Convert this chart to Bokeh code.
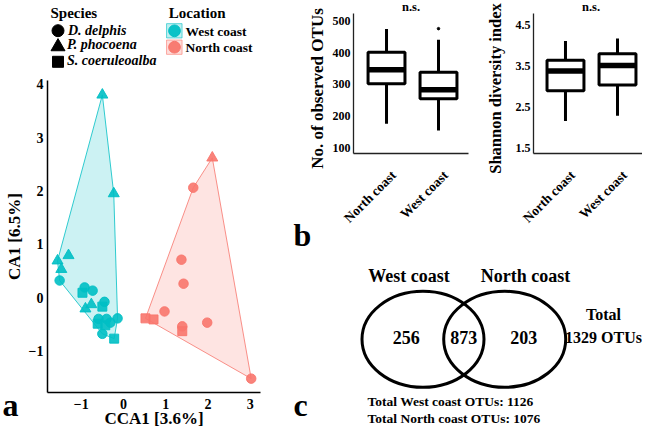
import numpy as np
from bokeh.plotting import figure
from bokeh.models import Range1d, FixedTicker, LinearAxis, ColumnDataSource
from bokeh.embed import file_html
from bokeh.resources import INLINE
from bokeh.core.properties import value

FONT = "Liberation Serif"
CYAN = "#00BFC4"
RED = "#F8766D"

# ---------------- data: panel a (CCA ordination) ----------------
species_names = ["D. delphis", "P. phocoena", "S. coeruleoalba"]
species_codes = ["D", "P", "S"]
location_names = ["West coast", "North coast"]

west_cca1 = [-0.50, -0.23, -1.56, -1.30, -1.47, -1.51, -0.92, -0.73, -0.97, -0.90, -0.76,
             -0.45, -0.50, -0.59, -0.40, -0.14, -0.61, -0.43, -0.31, -0.50, -0.22]
west_ca1 = [3.80, 1.95, 0.69, 0.79, 0.53, 0.32, 0.19, 0.13, 0.09, -0.21, -0.13,
            -0.08, -0.17, -0.40, -0.40, -0.39, -0.49, -0.52, -0.47, -0.68, -0.77]
west_species = ["P", "P", "P", "P", "P", "D", "D", "D", "S", "P", "P",
                "D", "S", "D", "D", "D", "S", "S", "D", "D", "S"]

north_cca1 = [2.10, 1.65, 1.37, 1.42, 0.97, 0.52, 0.71, 1.39, 1.39, 1.98, 3.02]
north_ca1 = [2.62, 2.06, 0.71, 0.26, -0.26, -0.39, -0.41, -0.54, -0.63, -0.47, -1.52]
north_species = ["P", "D", "D", "D", "D", "S", "S", "D", "S", "D", "D"]

cca_x_ticks = [-1, 0, 1, 2, 3]
cca_y_ticks = [-1, 0, 1, 2, 3, 4]
cca_x_label = "CCA1 [3.6%]"
cca_y_label = "CA1 [6.5%]"

# ---------------- data: panel b (alpha diversity boxplots) ----------------
box_groups = ["North coast", "West coast"]
otu_lower = [175, 154]
otu_q1 = [302, 255]
otu_median = [347, 283]
otu_q3 = [402, 339]
otu_upper = [476, 442]
otu_outlier_group = [2]
otu_outlier_value = [477]
otu_ticks = [100, 200, 300, 400, 500]
otu_label = "No. of observed OTUs"

sh_lower = [2.17, 2.30]
sh_q1 = [2.91, 3.05]
sh_median = [3.39, 3.52]
sh_q3 = [3.65, 3.81]
sh_upper = [4.12, 4.18]
sh_ticks = [1.5, 2.5, 3.5, 4.5]
sh_label = "Shannon diversity index"
test_label = "n.s."

# ---------------- data: panel c (Venn) ----------------
venn_sets = ["West coast", "North coast"]
venn_counts = [256, 873, 203]
total_otus = 1329
west_total = 1126
north_total = 1076

MARKERS = {"D": "circle", "P": "triangle", "S": "square"}
SIZES = {"D": 9.5, "P": 11, "S": 9}

# drawing canvas in pixels
CX0, CX1, CY0, CY1 = 0, 642, 0, 427
BASE_SHIFT = 0.38   # baseline correction (fraction of font size)


def xr(d0, d1, p0, p1):
    """Range over the whole canvas so that data d0..d1 falls on pixels p0..p1."""
    s = (p1 - p0) / (d1 - d0)
    return Range1d(d0 + (CX0 - p0) / s, d0 + (CX1 - p0) / s)


def yr(d0, d1, p0, p1):
    """p0: pixel (from top) of d0, p1: pixel of d1."""
    s = (p0 - p1) / (d1 - d0)
    return Range1d(d0 + (p0 - CY1) / s, d0 + (p0 - CY0) / s)


def ypix(d0, d1, p0, p1, py):
    s = (p0 - p1) / (d1 - d0)
    return d0 + (p0 - py) / s


def convex_hull(xs, ys):
    pts = sorted(set(zip(xs, ys)))

    def cross(o, a, b):
        return (a[0] - o[0]) * (b[1] - o[1]) - (a[1] - o[1]) * (b[0] - o[0])

    lower, upper = [], []
    for q in pts:
        while len(lower) >= 2 and cross(lower[-2], lower[-1], q) <= 0:
            lower.pop()
        lower.append(q)
    for q in reversed(pts):
        while len(upper) >= 2 and cross(upper[-2], upper[-1], q) <= 0:
            upper.pop()
        upper.append(q)
    h = lower[:-1] + upper[:-1]
    return [q[0] for q in h], [q[1] for q in h]


def style_axis(ax, size, color="black", width=1.5):
    ax.major_tick_line_color = None
    ax.minor_tick_line_color = None
    ax.major_tick_out = 0
    ax.major_tick_in = 0
    ax.major_label_text_font = FONT
    ax.major_label_text_font_style = "bold"
    ax.major_label_text_font_size = size
    ax.major_label_text_color = "black"
    ax.axis_line_color = color
    ax.axis_line_width = width


p = figure(width=CX1 - CX0, height=CY1 - CY0,
           x_range=Range1d(CX0, CX1), y_range=Range1d(CY1, CY0),
           output_backend="svg", toolbar_location=None,
           x_axis_location=None, y_axis_location=None,
           min_border=0, min_border_left=0, min_border_right=0,
           min_border_top=0, min_border_bottom=0)
p.outline_line_color = None
p.grid.visible = False


def label(xs, ys, texts, size, align="left", style="bold", vertical=False):
    """Text at alphabetic baselines (canvas pixels)."""
    off = -BASE_SHIFT * size
    kw = dict(x_offset=off) if vertical else dict(y_offset=off)
    p.text(x=xs, y=ys, text=texts, angle=np.pi / 2 if vertical else 0,
           text_font=value(FONT), text_font_style=style, text_font_size=f"{size}px",
           text_color="black", text_align=align, text_baseline="alphabetic", **kw)


# ---------------- panel a ----------------
A_X = (-1.797, 3.24, 47, 260)
A_Y = (-1.78, 4.07, 392, 80)
p.extra_x_ranges["ax"] = xr(*A_X)
p.extra_y_ranges["ay"] = yr(*A_Y)

for xs, ys, col in ((west_cca1, west_ca1, CYAN), (north_cca1, north_ca1, RED)):
    hx, hy = convex_hull(xs, ys)
    p.patch(hx, hy, fill_color=col, fill_alpha=0.2, line_color=col, line_alpha=0.8,
            line_width=1, x_range_name="ax", y_range_name="ay")

for xs, ys, sp, col in ((west_cca1, west_ca1, west_species, CYAN),
                        (north_cca1, north_ca1, north_species, RED)):
    src = ColumnDataSource(dict(x=xs, y=ys,
                                marker=[MARKERS[s] for s in sp],
                                size=[SIZES[s] for s in sp]))
    p.scatter(x="x", y="y", marker="marker", size="size", source=src,
              fill_color=col, line_color=col, fill_alpha=0.9, line_alpha=0.9,
              x_range_name="ax", y_range_name="ay")

ax_a = LinearAxis(x_range_name="ax", y_range_name="ay", fixed_location=A_Y[0],
                  bounds=(A_X[0], A_X[1]), ticker=FixedTicker(ticks=cca_x_ticks))
style_axis(ax_a, "14px")
ax_a.major_label_standoff = 6
p.add_layout(ax_a, "below")
ay_a = LinearAxis(x_range_name="ax", y_range_name="ay", fixed_location=A_X[0],
                  bounds=(A_Y[0], A_Y[1]), ticker=FixedTicker(ticks=cca_y_ticks))
style_axis(ay_a, "14px")
ay_a.major_label_standoff = 4
p.add_layout(ay_a, "left")

label([153.5], [424], [cca_x_label], 17, align="center")
label([20.5], [236], [cca_y_label], 17, align="center", vertical=True)

# legend (Species / Location)
label([50, 168.3], [18.5, 18.5], ["Species", "Location"], 15)
p.scatter(x=[57.5, 57.5, 57.5], y=[30.2, 46.2, 61.3],
          marker=[MARKERS[c] for c in species_codes], size=[12, 14, 11],
          fill_color="black", line_color="black")
label([67.5, 66.5, 66.5], [35, 49.3, 65], species_names, 14, style="bold italic")
p.rect(x=[173.8, 173.8], y=[30.3, 46.7], width=15.5, height=14.3,
       fill_color=[CYAN, RED], fill_alpha=0.25, line_color=[CYAN, RED], line_alpha=0.6)
p.scatter(x=[174, 174], y=[30.3, 46.7], marker="circle", size=11.7,
          fill_color=[CYAN, RED], line_color=[CYAN, RED], fill_alpha=0.95)
label([185, 185], [36, 51.7], location_names, 13.5)


# ---------------- panel b ----------------
def boxplot(name, X, Y, lower, q1, med, q3, upper, ticks, tick_fmt,
            outlier_x=None, outlier_y=None):
    p.extra_x_ranges[name + "x"] = xr(*X)
    p.extra_y_ranges[name + "y"] = yr(*Y)
    kw = dict(x_range_name=name + "x", y_range_name=name + "y")
    pos = np.arange(1, len(box_groups) + 1)
    bw = 0.71
    p.segment(x0=pos, y0=q3, x1=pos, y1=upper, line_color="black", line_width=3, **kw)
    p.segment(x0=pos, y0=q1, x1=pos, y1=lower, line_color="black", line_width=3, **kw)
    p.vbar(x=pos, width=bw, bottom=q1, top=q3, fill_color="white",
           line_color="black", line_width=3, **kw)
    p.segment(x0=pos - bw / 2, y0=med, x1=pos + bw / 2, y1=med,
              line_color="black", line_width=5.5, **kw)
    if outlier_x is not None:
        p.scatter(x=outlier_x, y=outlier_y, size=2.5, color="black", **kw)
    xa = LinearAxis(fixed_location=Y[0], bounds=(X[0], X[1]),
                    ticker=FixedTicker(ticks=[]), **kw)
    style_axis(xa, "13px", "#222222", 1.3)
    p.add_layout(xa, "below")
    ya = LinearAxis(fixed_location=X[0], bounds=(Y[0], Y[1]),
                    ticker=FixedTicker(ticks=ticks), **kw)
    ya.major_label_overrides = {t: tick_fmt(t) for t in ticks}
    ya.major_label_standoff = 3
    style_axis(ya, "12px", "#222222", 1.3)
    p.add_layout(ya, "left")
    # rotated group labels under the x axis
    ylab = ypix(*Y, 167)
    p.text(x=pos, y=[ylab] * len(pos), text=box_groups, angle=np.pi / 4, x_offset=2,
           text_font=value(FONT), text_font_style="bold", text_font_size="13.5px",
           text_color="black", text_align="right", text_baseline="top", **kw)


B1_X = (0.365, 2.577, 353, 468)
B1_Y = (81, 525, 153, 13)
B2_X = (0.385, 2.596, 533, 648)
B2_Y = (1.378, 4.79, 153, 13)
boxplot("b1", B1_X, B1_Y, otu_lower, otu_q1, otu_median, otu_q3, otu_upper,
        otu_ticks, lambda t: str(int(t)), otu_outlier_group, otu_outlier_value)
boxplot("b2", B2_X, B2_Y, sh_lower, sh_q1, sh_median, sh_q3, sh_upper,
        sh_ticks, lambda t: f"{t:.1f}")

label([323.5], [88], [otu_label], 17, align="center", vertical=True)
label([501], [88], [sh_label], 16.5, align="center", vertical=True)
label([410.5, 590.5], [11.5, 11.5], [test_label, test_label], 12.5, align="center")

# ---------------- panel c (Venn) ----------------
p.ellipse(x=[422.5, 504.2], y=[338.8, 338.8], width=122, height=96,
          fill_color=None, line_color="black", line_width=3)
label([408.5, 525], [282, 282], venn_sets, 18, align="center")
label([405.7, 463.3, 523.3], [343.5, 343.5, 343.5], [str(c) for c in venn_counts], 18,
      align="center")
label([603, 603], [320, 343.3], ["Total", f"{total_otus} OTUs"], 16, align="center")
label([367, 367], [406.5, 423],
      [f"Total West coast OTUs: {west_total}", f"Total North coast OTUs: {north_total}"], 13.5)

# panel letters
label([2, 293, 293], [417, 247, 417], ["a", "b", "c"], 32)

open("out.html", "w").write(file_html(p, INLINE))
